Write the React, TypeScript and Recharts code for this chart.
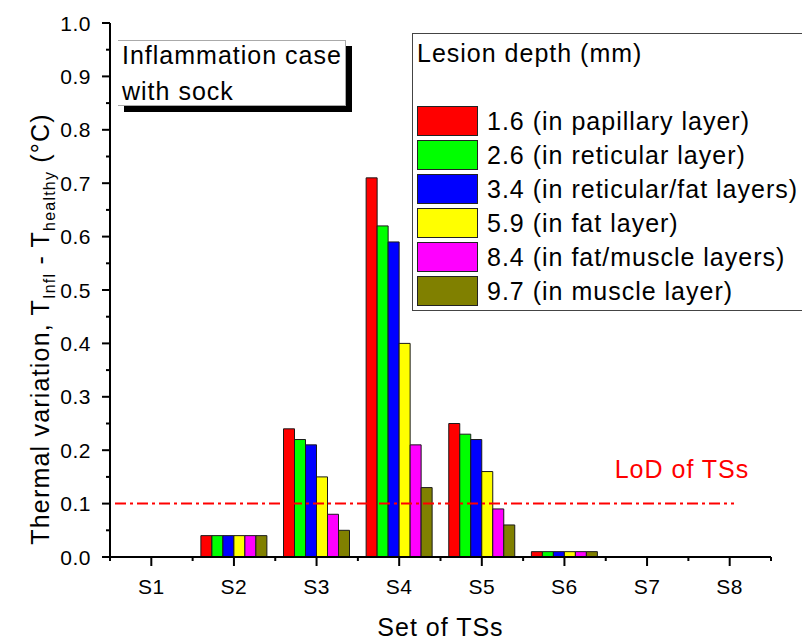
import React from "react";
import { Bar, BarChart, Legend, ReferenceLine, XAxis, YAxis } from "recharts";

const FONT = '"Liberation Sans", Arial, sans-serif';

const sets = ["S1", "S2", "S3", "S4", "S5", "S6", "S7", "S8"];

const depth16 = [0, 0.04, 0.24, 0.71, 0.25, 0.01, 0, 0];
const depth26 = [0, 0.04, 0.22, 0.62, 0.23, 0.01, 0, 0];
const depth34 = [0, 0.04, 0.21, 0.59, 0.22, 0.01, 0, 0];
const depth59 = [0, 0.04, 0.15, 0.4, 0.16, 0.01, 0, 0];
const depth84 = [0, 0.04, 0.08, 0.21, 0.09, 0.01, 0, 0];
const depth97 = [0, 0.04, 0.05, 0.13, 0.06, 0.01, 0, 0];

const seriesNames = [
    "1.6 (in papillary layer)",
    "2.6 (in reticular layer)",
    "3.4 (in reticular/fat layers)",
    "5.9 (in fat layer)",
    "8.4 (in fat/muscle layers)",
    "9.7 (in muscle layer)",
];
const seriesColors = ["#ff0000", "#00ff00", "#0000ff", "#ffff00", "#ff00ff", "#808000"];

const yTicks = [0, 0.05, 0.1, 0.15, 0.2, 0.25, 0.3, 0.35, 0.4, 0.45, 0.5, 0.55, 0.6, 0.65, 0.7, 0.75, 0.8, 0.85, 0.9, 0.95, 1.0];
const yMajor = [0, 0.1, 0.2, 0.3, 0.4, 0.5, 0.6, 0.7, 0.8, 0.9, 1.0];

const lodValue = 0.1;
const lodLabel = "LoD of TSs";

const series = [depth16, depth26, depth34, depth59, depth84, depth97];
const data = sets.map((name, i) => {
    const row: Record<string, string | number> = { name };
    series.forEach((s, k) => { row[`d${k}`] = s[i]; });
    return row;
});

const YTick = (props: any) => {
    const { x, y, payload } = props;
    const axisX = x + 11 + 8;
    const major = yMajor.some(v => Math.abs(v - payload.value) < 1e-6);
    return (
        <g>
            <line x1={axisX - (major ? 8 : 4)} x2={axisX} y1={y} y2={y} stroke="#000" strokeWidth={2} />
            {major && (
                <text x={x} y={y} dy="0.36em" textAnchor="end" fontSize={21} letterSpacing={0.5} fontFamily={FONT} fill="#000">
                    {Number(payload.value).toFixed(1)}
                </text>
            )}
        </g>
    );
};

const XTick = (props: any) => {
    const { x, y, payload, index, visibleTicksCount } = props;
    const half = payload.offset || 41;
    const axisY = y - 22;
    return (
        <g>
            <line x1={x} x2={x} y1={axisY} y2={axisY + 9} stroke="#000" strokeWidth={2} />
            <line x1={x - half} x2={x - half} y1={axisY} y2={axisY + 4} stroke="#000" strokeWidth={2} />
            {index === visibleTicksCount - 1 && (
                <line x1={x + half} x2={x + half} y1={axisY} y2={axisY + 4} stroke="#000" strokeWidth={2} />
            )}
            <text x={x} y={y} dy="0.71em" textAnchor="middle" fontSize={21} letterSpacing={0.5} fontFamily={FONT} fill="#000">
                {payload.value}
            </text>
        </g>
    );
};

const YTitle = () => (
    <text transform="translate(40,329) rotate(-90)" textAnchor="middle" dy="0.36em" fontSize={25} letterSpacing={1.2} fontFamily={FONT} fill="#000">
        Thermal variation, T<tspan fontSize={16} dy={6}>Infl</tspan>
        <tspan dy={-6}> - T</tspan><tspan fontSize={16} dy={6}>healthy</tspan>
        <tspan dy={-6}> (°C)</tspan>
    </text>
);

const XTitle = (props: any) => {
    const { viewBox } = props;
    return (
        <text x={viewBox.x + viewBox.width / 2} y={627} dy="0.36em" textAnchor="middle" fontSize={25} letterSpacing={1} fontFamily={FONT} fill="#000">
            Set of TSs
        </text>
    );
};

const LodLabel = (props: any) => {
    const { viewBox } = props;
    return (
        <text x={viewBox.x + viewBox.width - 89} y={viewBox.y - 35} dy="0.36em" textAnchor="middle" fontSize={25} letterSpacing={1} fontFamily={FONT} fill="#ff0000">
            {lodLabel}
        </text>
    );
};

const LodLine = (props: any) => {
    const { x1, x2, y1, y2 } = props;
    return <line x1={x1 + 5} x2={x2 - 37} y1={y1} y2={y2} stroke="#ff0000" strokeWidth={2} strokeDasharray="11 4 3 4" />;
};

const LegendBox = (props: any) => {
    const { payload } = props;
    return (
        <div style={{ width: 395, height: 278, background: "#fff", border: "1px solid #444", boxSizing: "border-box", position: "relative", fontFamily: FONT }}>
            <div style={{ position: "absolute", left: 4, top: 5, fontSize: 25, letterSpacing: 1, whiteSpace: "nowrap", color: "#000" }}>
                Lesion depth (mm)
            </div>
            {(payload || []).map((entry: any, i: number) => (
                <div key={`leg-${i}`} style={{ position: "absolute", left: 4, top: 72 + i * 34, height: 30, display: "flex", alignItems: "center", whiteSpace: "nowrap" }}>
                    <div style={{ width: 61, height: 30, background: entry.color, border: "1px solid #222", boxSizing: "border-box" }} />
                    <span style={{ marginLeft: 9, fontSize: 25, letterSpacing: 1, color: "#000" }}>{entry.value}</span>
                </div>
            ))}
        </div>
    );
};

const App = () => {
    return (
        <div style={{ position: "absolute", left: 0, top: 0, width: 802, height: 641, overflow: "hidden", background: "#fff", fontFamily: FONT }}>
            <BarChart width={802} height={641} data={data} margin={{ top: 23, right: 31, bottom: 0, left: 0 }} barCategoryGap="10%" barGap={0}>
                <XAxis dataKey="name" height={84} tickLine={false} tickSize={9} tickMargin={13} interval={0}
                    axisLine={{ stroke: "#000", strokeWidth: 2 }} tick={<XTick />} label={<XTitle />} />
                <XAxis xAxisId="top" dataKey="name" orientation="top" height={0} tick={false} tickLine={false}
                    axisLine={{ stroke: "#000", strokeWidth: 2 }} />
                <YAxis width={110} domain={[0, 1]} ticks={yTicks} interval={0} tickLine={false} tickSize={8} tickMargin={11}
                    axisLine={{ stroke: "#000", strokeWidth: 2 }} tick={<YTick />} label={<YTitle />} />
                <YAxis yAxisId="right" orientation="right" width={0} domain={[0, 1]} tick={false} tickLine={false}
                    axisLine={{ stroke: "#000", strokeWidth: 2 }} />
                <Legend layout="vertical" align="center" verticalAlign="middle" content={<LegendBox />}
                    wrapperStyle={{ position: "absolute", left: 412, top: 33, width: 395, height: 278 }} />
                {seriesNames.map((name, k) => (
                    <Bar key={name} dataKey={`d${k}`} name={name} fill={seriesColors[k]} stroke="#1a1a1a" strokeWidth={1} isAnimationActive={false} />
                ))}
                <ReferenceLine y={lodValue} shape={<LodLine />} label={<LodLabel />} />
            </BarChart>
            <div style={{ position: "absolute", left: 118, top: 40, width: 228, height: 66, background: "#fff", borderTop: "1px solid #aaa", borderRight: "1px solid #aaa", borderBottom: "1px solid #aaa", boxSizing: "border-box", boxShadow: "6px 6px 0 #000" }} />
            <div style={{ position: "absolute", left: 122, top: 37, fontSize: 25, letterSpacing: 1, lineHeight: "36px", color: "#000", whiteSpace: "nowrap" }}>
                Inflammation case<br />with sock
            </div>
        </div>
    );
};

export default App;
